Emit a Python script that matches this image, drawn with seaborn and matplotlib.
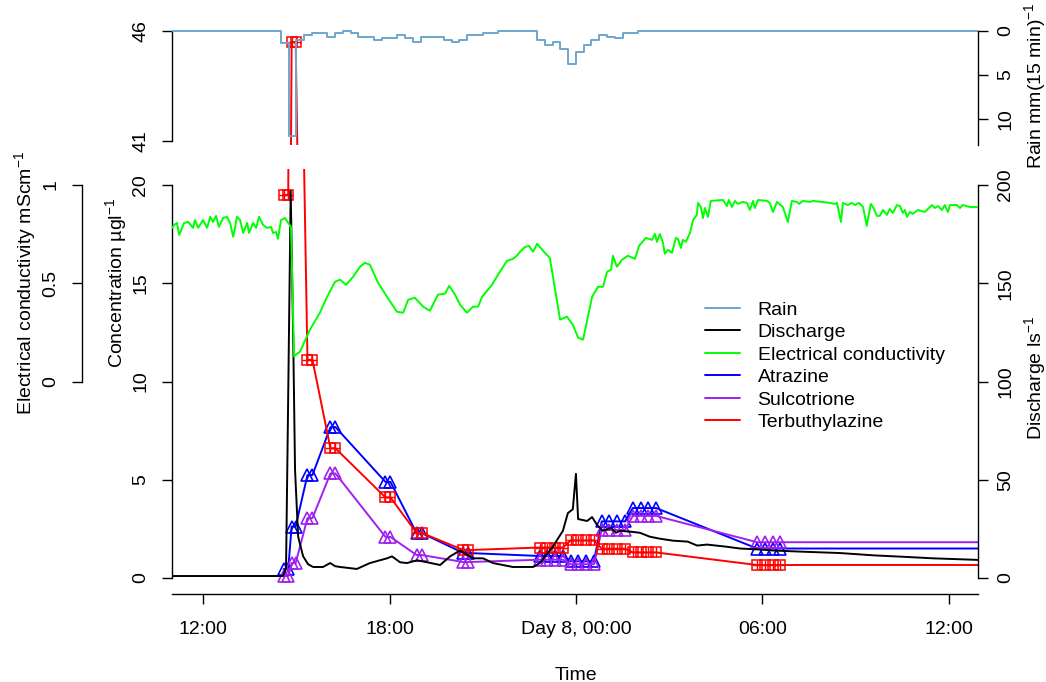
"""
Rain, discharge, conductivity and pesticide concentrations during a storm event.
"""
import numpy as np
import matplotlib
matplotlib.use("Agg")
import matplotlib.pyplot as plt
from matplotlib.lines import Line2D
import seaborn as sns

# ------------------------------------------------------------------
# Data (time in hours from Day 7, 00:00)
# ------------------------------------------------------------------
T_START, T_END = 11.0, 36.94

# rain, 15-min totals starting 14:30
rain_start = 14.5
rain_mm = [1.4, 11.9, 1.0, 0.45, 0.27, 0.27, 0.64, 0.27, 0.0, 0.27,
           0.64, 0.64, 1.0, 0.83, 0.83, 0.4, 0.83, 1.2, 0.64, 0.64,
           0.64, 1.0, 1.2, 1.0, 0.45, 0.45, 0.27, 0.27, 0.0, 0.0,
           0.0, 0.0, 0.0, 1.0, 1.6, 1.2, 2.0, 3.8, 2.4, 1.6,
           1.0, 0.45, 0.64, 0.83, 0.27, 0.27, 0.0]

# discharge l/s
dis_h = [11.00, 14.57, 14.67, 14.73, 14.82, 14.90, 14.96, 15.06, 15.22, 15.38,
         15.54, 15.86, 16.09, 16.25, 16.41, 16.95, 17.37, 17.69, 17.92, 18.08,
         18.34, 18.56, 18.89, 19.21, 19.63, 19.95, 20.27, 20.69, 21.01, 21.33,
         21.97, 22.62, 22.84, 23.26, 23.58, 23.74, 23.90, 24.00, 24.07, 24.36,
         24.52, 24.68, 24.87, 25.13, 25.29, 25.42, 25.80, 26.06, 26.38, 26.70,
         27.12, 27.60, 27.90, 28.22, 28.80, 29.28, 29.90, 30.34, 31.10, 31.60,
         32.49, 33.60, 34.65, 35.50, 36.94]
dis_q = [1.0, 1.0, 5.0, 80.0, 197.0, 123.0, 55.0, 21.0, 11.0, 7.0,
         5.6, 5.6, 7.6, 6.0, 5.6, 4.6, 7.6, 9.0, 10.0, 11.0,
         8.0, 7.6, 9.0, 8.0, 6.6, 11.0, 14.0, 10.0, 10.0, 7.6,
         5.6, 5.6, 7.6, 16.0, 24.0, 33.0, 35.0, 53.0, 30.0, 29.0,
         31.0, 27.0, 24.0, 25.5, 23.0, 24.0, 23.5, 23.0, 21.0, 20.0,
         19.0, 18.5, 16.5, 17.0, 16.0, 15.0, 14.5, 14.0, 13.5, 13.2,
         12.7, 11.5, 10.7, 10.0, 9.2]

# electrical conductivity mS/cm
ec_h = [11.00, 11.07, 11.16, 11.23, 11.39, 11.52, 11.68, 11.74, 11.84, 12.00,
        12.13, 12.23, 12.32, 12.42, 12.51, 12.64, 12.77, 12.87, 12.97, 13.09,
        13.19, 13.29, 13.42, 13.48, 13.61, 13.71, 13.80, 13.93, 14.06, 14.19,
        14.25, 14.35, 14.41, 14.51, 14.64, 14.74, 14.83, 14.93, 14.99, 15.12,
        15.44, 15.76, 15.99, 16.25, 16.41, 16.60, 16.83, 17.05, 17.21, 17.37,
        17.63, 17.92, 18.24, 18.44, 18.60, 18.82, 19.08, 19.30, 19.56, 19.79,
        19.92, 20.11, 20.27, 20.49, 20.69, 20.85, 20.98, 21.30, 21.49, 21.78,
        21.97, 22.10, 22.20, 22.36, 22.49, 22.62, 22.75, 23.00, 23.16, 23.33,
        23.49, 23.71, 23.90, 24.07, 24.23, 24.52, 24.71, 24.87, 25.00, 25.13,
        25.19, 25.32, 25.48, 25.67, 25.90, 26.03, 26.25, 26.45, 26.54, 26.61,
        26.70, 26.80, 26.86, 26.96, 27.09, 27.22, 27.28, 27.38, 27.44, 27.54,
        27.67, 27.77, 27.89, 27.93, 28.02, 28.09, 28.15, 28.25, 28.34, 28.73,
        28.86, 28.92, 29.02, 29.12, 29.21, 29.37, 29.50, 29.60, 29.70, 29.76,
        29.86, 30.15, 30.24, 30.34, 30.47, 30.66, 30.82, 30.95, 31.11, 31.18,
        31.31, 31.53, 31.63, 32.17, 32.33, 32.40, 32.53, 32.59, 32.75, 32.88,
        32.98, 33.11, 33.24, 33.36, 33.49, 33.56, 33.69, 33.78, 33.88, 34.01,
        34.10, 34.20, 34.33, 34.43, 34.52, 34.59, 34.65, 34.75, 34.84, 35.01,
        35.23, 35.46, 35.55, 35.65, 35.78, 35.87, 35.97, 36.04, 36.26, 36.36,
        36.45, 36.68, 36.94]
ec_ms = [0.782, 0.797, 0.807, 0.746, 0.807, 0.812, 0.782, 0.822, 0.782, 0.822,
         0.782, 0.838, 0.812, 0.843, 0.787, 0.832, 0.838, 0.807, 0.736, 0.838,
         0.822, 0.756, 0.807, 0.756, 0.807, 0.782, 0.838, 0.797, 0.782, 0.787,
         0.756, 0.761, 0.726, 0.822, 0.832, 0.807, 0.787, 0.127, 0.137, 0.152,
         0.264, 0.350, 0.431, 0.508, 0.518, 0.492, 0.533, 0.584, 0.604, 0.594,
         0.503, 0.431, 0.355, 0.350, 0.416, 0.426, 0.381, 0.360, 0.442, 0.447,
         0.487, 0.442, 0.391, 0.350, 0.381, 0.381, 0.431, 0.492, 0.543, 0.614,
         0.624, 0.640, 0.660, 0.685, 0.690, 0.660, 0.701, 0.655, 0.629, 0.467,
         0.315, 0.330, 0.289, 0.223, 0.213, 0.431, 0.482, 0.482, 0.558, 0.569,
         0.640, 0.584, 0.619, 0.640, 0.624, 0.690, 0.731, 0.721, 0.751, 0.711,
         0.751, 0.706, 0.650, 0.670, 0.655, 0.731, 0.726, 0.680, 0.721, 0.711,
         0.756, 0.822, 0.848, 0.909, 0.888, 0.832, 0.883, 0.838, 0.919, 0.924,
         0.893, 0.924, 0.888, 0.919, 0.904, 0.914, 0.909, 0.873, 0.919, 0.883,
         0.924, 0.919, 0.909, 0.863, 0.914, 0.888, 0.812, 0.919, 0.914, 0.904,
         0.919, 0.914, 0.919, 0.909, 0.904, 0.909, 0.812, 0.909, 0.898, 0.909,
         0.898, 0.909, 0.888, 0.792, 0.904, 0.888, 0.843, 0.843, 0.873, 0.848,
         0.878, 0.858, 0.898, 0.893, 0.858, 0.873, 0.838, 0.863, 0.853, 0.873,
         0.863, 0.898, 0.883, 0.893, 0.873, 0.898, 0.863, 0.898, 0.898, 0.883,
         0.898, 0.888, 0.888]

# pesticide samples (µg/l); composite samples repeat their value
sample_h = [14.59, 14.74, 14.85, 14.98, 15.36, 15.52, 16.10, 16.26, 17.87, 18.03,
            18.87, 19.03, 20.38, 20.54,
            22.83, 23.08, 23.33, 23.58, 23.83, 24.08, 24.33, 24.58,
            24.83, 25.08, 25.33, 25.58, 25.83, 26.08, 26.33, 26.58,
            29.83, 30.08, 30.33, 30.58]
atrazine = [0.45, 0.45, 2.62, 2.62, 5.24, 5.24, 7.68, 7.68, 4.89, 4.89,
            2.29, 2.29, 1.27, 1.27,
            1.12, 1.12, 1.12, 1.12, 0.85, 0.85, 0.85, 0.85,
            2.88, 2.88, 2.88, 2.88, 3.56, 3.56, 3.56, 3.56,
            1.50, 1.50, 1.50, 1.50]
sulcotrione = [0.10, 0.10, 0.76, 0.76, 3.05, 3.05, 5.32, 5.32, 2.09, 2.09,
               1.17, 1.17, 0.81, 0.81,
               0.93, 0.93, 0.93, 0.93, 0.70, 0.70, 0.70, 0.70,
               2.44, 2.44, 2.44, 2.44, 3.16, 3.16, 3.16, 3.16,
               1.82, 1.82, 1.82, 1.82]
terbuthylazine = [19.5, 19.5, 45.5, 45.5, 11.1, 11.1, 6.6, 6.6, 4.1, 4.1,
                  2.3, 2.3, 1.42, 1.42,
                  1.55, 1.55, 1.55, 1.55, 1.91, 1.91, 1.91, 1.91,
                  1.49, 1.49, 1.49, 1.49, 1.30, 1.30, 1.30, 1.30,
                  0.66, 0.66, 0.66, 0.66]

C_RAIN, C_Q, C_EC = "#6CA6CD", "black", "#00FF00"
C_ATR, C_SUL, C_TER = "#0000FF", "#A020F0", "#FF0000"
LW = 1.4

# ------------------------------------------------------------------
# Style
# ------------------------------------------------------------------
sns.set_style("ticks")
plt.rcParams.update({
    "font.family": ["Liberation Sans", "DejaVu Sans"],
    "font.size": 14,
    "mathtext.fontset": "custom",
    "mathtext.rm": "Liberation Sans",
    "mathtext.it": "Liberation Sans:italic",
    "mathtext.bf": "Liberation Sans:bold",
    "axes.edgecolor": "black",
    "axes.linewidth": 1.0,
    "xtick.color": "black",
    "ytick.color": "black",
    "text.color": "black",
    "axes.labelcolor": "black",
})

W_PX, H_PX = 1046, 682
fig = plt.figure(figsize=(W_PX / 100, H_PX / 100), dpi=100)
L, W = 172 / W_PX, 806 / W_PX
ax = fig.add_axes([L, (H_PX - 593.7) / H_PX, W, (593.7 - 169.3) / H_PX])
ax_top = fig.add_axes([L, (H_PX - 145.4) / H_PX, W, (145.4 - 26.6) / H_PX])
ax_q = ax.twinx()
ax_e = ax.twinx()
ax_r = ax_top.twinx()

for a in (ax, ax_top, ax_q, ax_e, ax_r):
    a.patch.set_visible(False)
    for s in a.spines.values():
        s.set_visible(False)
    a.set_xlim(T_START, T_END)

# ------------------------------------------------------------------
# Top panel: rain + terbuthylazine peak
# ------------------------------------------------------------------
rain_h = np.concatenate([[T_START], rain_start + 0.25 * np.arange(len(rain_mm)), [T_END]])
rain_v = np.concatenate([[0.0], rain_mm, [0.0]])
sns.lineplot(x=rain_h, y=rain_v, ax=ax_r, color=C_RAIN, lw=LW,
             drawstyle="steps-post", sort=False, estimator=None)
ax_r.set_ylim(13.0, -0.5)


def pest(a, y, color, marker):
    xs = sample_h + [T_END]
    ys = y + [y[-1]]
    sns.lineplot(x=xs, y=ys, ax=a, color=color, lw=LW, sort=False, estimator=None)
    if marker == "tri":
        a.plot(sample_h, y, ls="none", marker="^", ms=8.5, mfc="none", mec=color, mew=1.2)
    else:
        a.plot(sample_h, y, ls="none", marker="s", ms=7, mfc="none", mec=color, mew=1.1)
        a.plot(sample_h, y, ls="none", marker="+", ms=7, mec=color, mew=1.0)


pest(ax_top, terbuthylazine, C_TER, "sq")
ax_top.set_ylim(40.8, 46.2)

# ------------------------------------------------------------------
# Main panel
# ------------------------------------------------------------------
pest(ax, atrazine, C_ATR, "tri")
pest(ax, sulcotrione, C_SUL, "tri")
pest(ax, terbuthylazine, C_TER, "sq")
ax.set_ylim(-0.8, 20.8)

sns.lineplot(x=dis_h, y=dis_q, ax=ax_q, color=C_Q, lw=LW, sort=False, estimator=None)
ax_q.set_ylim(-8, 208)

sns.lineplot(x=ec_h, y=ec_ms, ax=ax_e, color=C_EC, lw=LW, sort=False, estimator=None)
ax_e.set_ylim(-1.08, 1.08)

# ------------------------------------------------------------------
# Axes, ticks, labels
# ------------------------------------------------------------------
TL = 7
ax.spines["left"].set_visible(True)
ax.spines["left"].set_bounds(0, 20)
ax.spines["bottom"].set_visible(True)
ax.set_yticks([0, 5, 10, 15, 20])
ax.set_xticks([12, 18, 24, 30, 36])
ax.set_xticklabels(["12:00", "18:00", "Day 8, 00:00", "06:00", "12:00"])
ax.tick_params(axis="x", length=TL, width=1, pad=13)
ax.tick_params(axis="y", length=TL, width=1, pad=9.5, labelrotation=90)

ax_q.spines["right"].set_visible(True)
ax_q.spines["right"].set_bounds(0, 200)
ax_q.set_yticks([0, 50, 100, 150, 200])
ax_q.tick_params(axis="y", length=TL, width=1, pad=7, labelrotation=90)

ax_e.yaxis.tick_left()
ax_e.spines["left"].set_visible(True)
ax_e.spines["left"].set_position(("outward", 90 * 0.72))
ax_e.spines["left"].set_bounds(0, 1)
ax_e.set_yticks([0, 0.5, 1])
ax_e.set_yticklabels(["0", "0.5", "1"])
ax_e.tick_params(axis="y", length=TL, width=1, pad=9.5, labelrotation=90)

ax_top.spines["left"].set_visible(True)
ax_top.spines["left"].set_bounds(41, 46)
ax_top.set_yticks([41, 46])
ax_top.tick_params(axis="y", length=TL, width=1, pad=9.5, labelrotation=90)
ax_top.tick_params(axis="x", bottom=False, labelbottom=False)

ax_r.spines["right"].set_visible(True)
ax_r.spines["right"].set_bounds(0, 13.0)
ax_r.set_yticks([0, 5, 10])
ax_r.tick_params(axis="y", length=TL, width=1, pad=7, labelrotation=90)
ax_r.tick_params(axis="x", bottom=False, labelbottom=False)

for a in (ax, ax_top, ax_q, ax_e, ax_r):
    a.set_xlabel("")
    a.set_ylabel("")
    for lab in a.get_yticklabels():
        lab.set_va("center")
ax_e.tick_params(axis="x", bottom=False, labelbottom=False)
ax_q.tick_params(axis="x", bottom=False, labelbottom=False)


def fx(px):
    return px / W_PX


def fy(py):
    return 1 - py / H_PX


fig.text(fx(116), fy(283), r"Concentration µgl$^{-1}$", rotation=90, ha="center", va="center")
fig.text(fx(25), fy(283), r"Electrical conductivity mScm$^{-1}$", rotation=90, ha="center", va="center")
fig.text(fx(1035), fy(378), r"Discharge ls$^{-1}$", rotation=90, ha="center", va="center")
fig.text(fx(1035), fy(86), r"Rain mm(15 min)$^{-1}$", rotation=90, ha="center", va="center")
fig.text(fx(576), fy(675), "Time", ha="center", va="center")

handles = [Line2D([], [], color=c, lw=LW) for c in (C_RAIN, C_Q, C_EC, C_ATR, C_SUL, C_TER)]
labels = ["Rain", "Discharge", "Electrical conductivity", "Atrazine", "Sulcotrione", "Terbuthylazine"]
fig.legend(handles, labels, loc="upper left", bbox_to_anchor=(fx(705), fy(301)),
           frameon=False, handlelength=1.8, handletextpad=0.9, labelspacing=0.25,
           borderpad=0, borderaxespad=0, fontsize=14)

fig.savefig("out.png", dpi=100)
plt.close(fig)
